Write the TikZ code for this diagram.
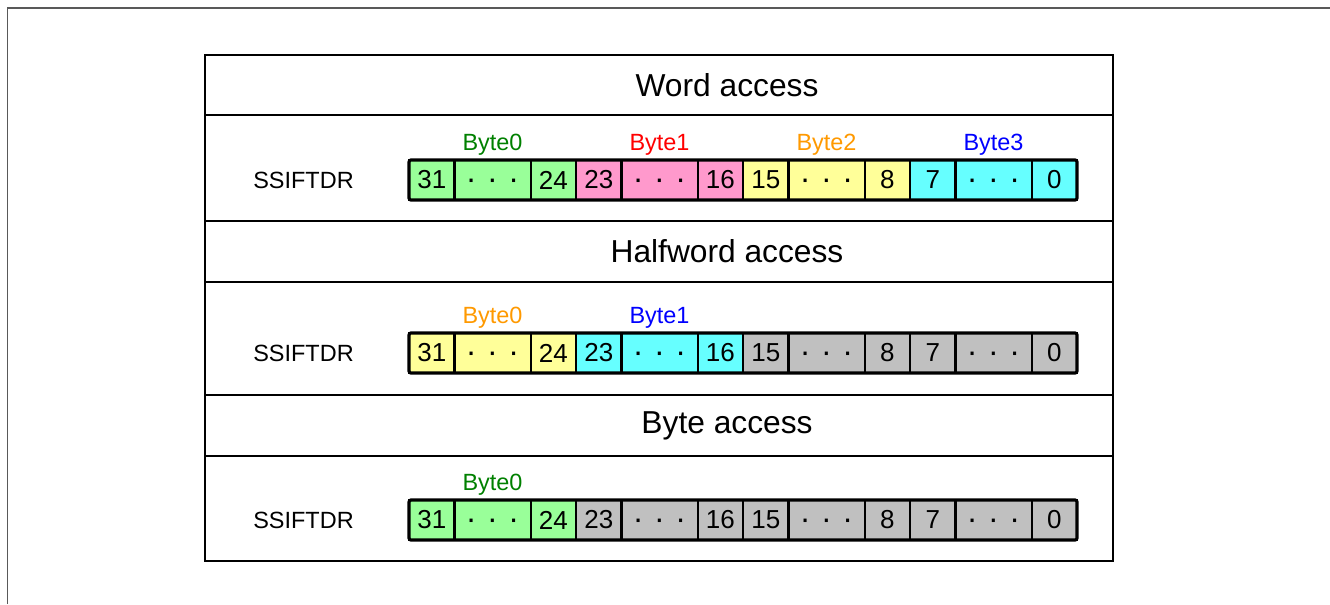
\documentclass[tikz,border=0pt]{standalone}
\usepackage{fontspec}
\setmainfont{Liberation Sans}
\definecolor{clGreen}{HTML}{99FF99}
\definecolor{clPink}{HTML}{FF99CC}
\definecolor{clYellow}{HTML}{FFFF99}
\definecolor{clCyan}{HTML}{66FFFF}
\definecolor{clGray}{HTML}{C0C0C0}
\definecolor{clLblGreen}{HTML}{008000}
\definecolor{clLblRed}{HTML}{FF0000}
\definecolor{clLblOrange}{HTML}{FF9900}
\definecolor{clLblBlue}{HTML}{0000FF}
\usetikzlibrary{calc,positioning}
\tikzset{
  cell/.style={rectangle, draw=black, line width=1.5pt, inner sep=0pt, outer sep=0pt,
               minimum height=30pt, font=\fontsize{19.5}{20}\selectfont},
  bitcell/.style={cell, minimum width=34.1pt},
  dotcell/.style={cell, minimum width=57pt, font=\fontsize{24}{24}\selectfont,
                  text height=0pt, text depth=0pt},
  regframe/.style={draw=black, line width=2.4pt, rounded corners=1.5pt},
  bytelabel/.style={font=\fontsize{17.6}{18}\selectfont, inner sep=0pt},
  reglabel/.style={font=\fontsize{17.6}{18}\selectfont, inner sep=0pt},
  header/.style={font=\fontsize{23.8}{24}\selectfont, inner sep=0pt},
  tbl/.style={draw=black, line width=1.5pt},
  outerframe/.style={draw=black!65, line width=1.4pt},
}

\begin{document}
\begin{tikzpicture}[x=0.75pt, y=-0.75pt]
  \useasboundingbox (0,0) rectangle (1330,604);
  \draw[outerframe] (7.5,604) |- (1330,8);
  % table
  \draw[tbl] (205,55) rectangle (1113,561);
  \foreach \yy in {115,221,282,395,456} { \draw[tbl] (205,\yy) -- (1113,\yy); }
  \node[header] (hdword) at (727,85) {Word access};
  \node[header] (hdhalf) at (727,251.5) {Halfword access};
  \node[header] (hdbyte) at (727,425.5) {Byte access};
  % registers
  \foreach \rw/\yy/\ca/\cb/\cc/\cd in {w/180/clGreen/clPink/clYellow/clCyan,
      h/353/clYellow/clCyan/clGray/clGray, b/520/clGreen/clGray/clGray/clGray} {
    \node[reglabel] (\rw reg) at (303.5,\yy) {SSIFTDR};
    \foreach \bb/\cl in {0/\ca,1/\cb,2/\cc,3/\cd} {
      \pgfmathtruncatemacro\hi{31-8*\bb}
      \pgfmathtruncatemacro\lo{24-8*\bb}
      \node[bitcell, fill=\cl] (\rw\bb h) at ({409+167*\bb+22.75},\yy) {\hi};
      \node[dotcell, fill=\cl] (\rw\bb d) at ({409+167*\bb+83.5},\yy)
        {\raisebox{-0.31em}{·\hspace{0.33em}·\hspace{0.33em}·}};
      \node[bitcell, fill=\cl] (\rw\bb l) at ({409+167*\bb+144.25},\yy) {\lo};
    }
    \draw[regframe] (\rw0h.north west) rectangle (\rw3l.south east);
  }
  % byte labels
  \foreach \rw/\bb/\cl in {w/0/clLblGreen, w/1/clLblRed, w/2/clLblOrange, w/3/clLblBlue,
      h/0/clLblOrange, h/1/clLblBlue, b/0/clLblGreen} {
    \node[bytelabel, text=\cl] (\rw\bb lbl) at ($(\rw\bb d)+(0,-35)$) {Byte\bb};
  }
\end{tikzpicture}
\end{document}
